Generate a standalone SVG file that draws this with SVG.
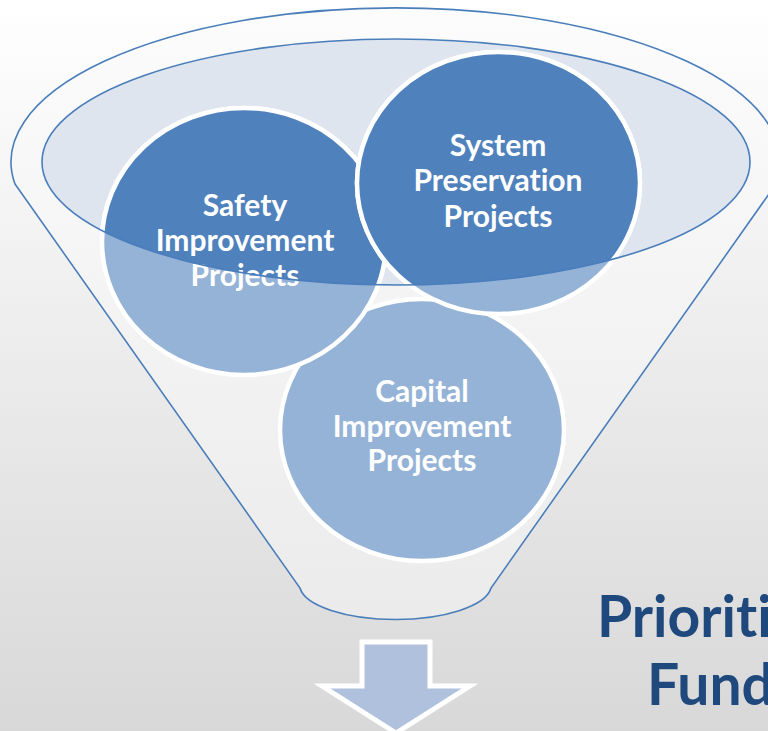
<svg xmlns="http://www.w3.org/2000/svg" width="768" height="731" viewBox="0 0 768 731">
<defs>
<linearGradient id="bg" x1="0" y1="0" x2="0" y2="1">
<stop offset="0" stop-color="#ffffff"/>
<stop offset="1" stop-color="#d8d8d8"/>
</linearGradient>
<linearGradient id="funnelFill" x1="0" y1="0" x2="0" y2="1">
<stop offset="0" stop-color="#fcfcfc"/>
<stop offset="1" stop-color="#ebebeb"/>
</linearGradient>
<clipPath id="mouth">
<ellipse cx="396" cy="162" rx="354" ry="123"/>
</clipPath>
<style>
.outline{stroke:#4a7ebb;stroke-width:1.6;}
.light{fill:#95b3d7;stroke:#ffffff;stroke-width:4.5;}
.dark{fill:#4f81bd;stroke:#ffffff;stroke-width:4.5;}
text{font-variant-ligatures:none;font-feature-settings:"liga" 0;}
.lbl{font-family:Lato,"Open Sans","Liberation Sans",sans-serif;font-weight:bold;font-size:30px;fill:#ffffff;text-anchor:middle;}
.title{font-family:Lato,"Open Sans","Liberation Sans",sans-serif;font-weight:bold;font-size:57px;fill:#1f497d;}
</style>
</defs>
<rect width="768" height="731" fill="url(#bg)"/>
<g id="funnel">
<path class="outline" fill="url(#funnelFill)" d="M15,184 L300,588 A96 35 0 0 0 491,588 L776,184 A384.5 154 0 1 0 15,184 Z"/>
<ellipse cx="396" cy="162" rx="354" ry="123" fill="#dfe5ef"/>
</g>
<g id="capital">
<ellipse class="light" cx="422" cy="430" rx="142" ry="131"/>
<text class="lbl" x="422" y="402">Capital</text>
<text class="lbl" x="422" y="437">Improvement</text>
<text class="lbl" x="422" y="471">Projects</text>
</g>
<g id="safety">
<ellipse class="light" cx="244" cy="241.5" rx="142" ry="133.5"/>
<ellipse class="dark" cx="244" cy="241.5" rx="142" ry="133.5" clip-path="url(#mouth)"/>
<text class="lbl" x="245" y="216">Safety</text>
<text class="lbl" x="245" y="251">Improvement</text>
<text class="lbl" x="245" y="286">Projects</text>
</g>
<g id="system">
<ellipse class="light" cx="498.5" cy="183" rx="141.5" ry="131"/>
<ellipse class="dark" cx="498.5" cy="183" rx="141.5" ry="131" clip-path="url(#mouth)"/>
<text class="lbl" x="498" y="156">System</text>
<text class="lbl" x="498" y="191">Preservation</text>
<text class="lbl" x="498" y="227">Projects</text>
</g>
<g id="mouth-rim">
<ellipse class="outline" cx="396" cy="162" rx="354" ry="123" fill="none"/>
</g>
<g id="connectors">
<path id="arrow" d="M362,642 L430,642 L430,686 L470,686 L396,733 L322,686 L362,686 Z" fill="#b0c1dd" stroke="#ffffff" stroke-width="5" stroke-linejoin="miter"/>
</g>
<g id="title">
<text class="title" x="597" y="637">Prioriti</text>
<text class="title" x="647" y="705">Fund</text>
</g>
</svg>
